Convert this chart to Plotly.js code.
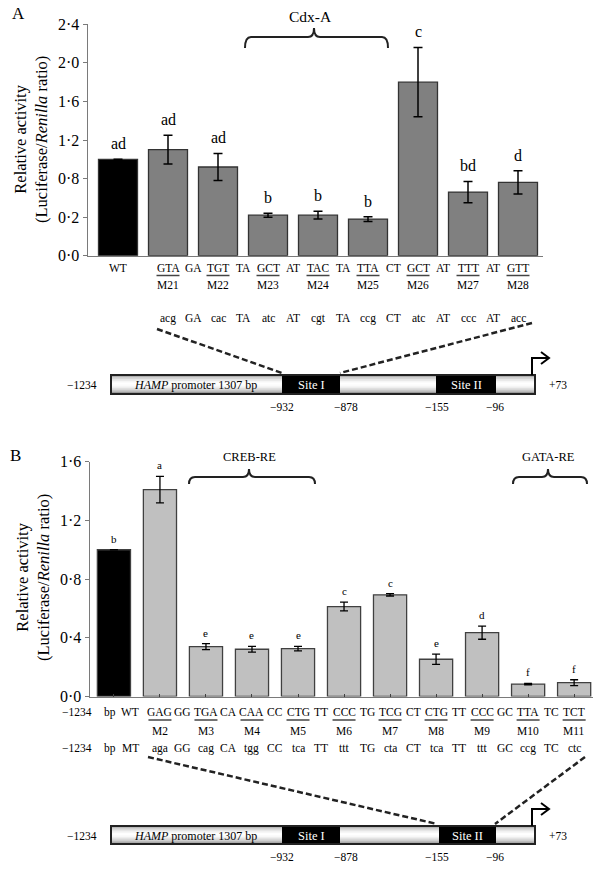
<!DOCTYPE html>
<html><head><meta charset="utf-8">
<script src="https://cdn.plot.ly/plotly-3.0.1.min.js"></script>
<style>body{margin:0;padding:0;background:#fff}#chart{width:603px;height:870px}</style>
</head><body><div id="chart"></div>
<script>
// ---------- Panel A data ----------
const catsA = ['WT','M21','M22','M23','M24','M25','M26','M27','M28'];
const valsA = [1.00, 1.10, 0.92, 0.42, 0.42, 0.38, 1.80, 0.66, 0.76];
const errA  = [0, 0.15, 0.14, 0.02, 0.04, 0.025, 0.36, 0.11, 0.12];
const lettersA = ['ad','ad','ad','b','b','b','c','bd','d'];
const ytickValsA = [0, 0.4, 0.8, 1.2, 1.6, 2.0, 2.4];
const ytickTextA = ['0·0','0·2','0·8','1·2','1·6','2·0','2·4'];
const seqWtA = ['GTA','GA','TGT','TA','GCT','AT','TAC','TA','TTA','CT','GCT','AT','TTT','AT','GTT'];
const seqMtA = ['acg','GA','cac','TA','atc','AT','cgt','TA','ccg','CT','atc','AT','ccc','AT','acc'];

// ---------- Panel B data ----------
const catsB = ['WT','M2','M3','M4','M5','M6','M7','M8','M9','M10','M11'];
const valsB = [1.00, 1.41, 0.34, 0.322, 0.326, 0.613, 0.693, 0.254, 0.435, 0.085, 0.094];
const errB  = [0, 0.09, 0.02, 0.02, 0.015, 0.03, 0.008, 0.035, 0.045, 0.005, 0.02];
const lettersB = ['b','a','e','e','e','c','c','e','d','f','f'];
const ytickValsB = [0, 0.4, 0.8, 1.2, 1.6];
const ytickTextB = ['0·0','0·4','0·8','1·2','1·6'];
const seqWtB = ['GAG','GG','TGA','CA','CAA','CC','CTG','TT','CCC','TG','TCG','CT','CTG','TT','CCC','GC','TTA','TC','TCT'];
const seqMtB = ['aga','GG','cag','CA','tgg','CC','tca','TT','ttt','TG','cta','CT','tca','TT','ttt','GC','ccg','TC','ctc'];

// promoter diagram labels
const promoterLabel = '<i>HAMP</i> promoter 1307 bp';
const siteLabels = ['Site I','Site II'];
const posLabels = ['−932','−878','−155','−96'];

// ---------- helpers ----------
const W = 603, H = 870;
const X = p => p / W;
const Y = p => 1 - p / H;
const P = (x, y) => X(x) + ',' + Y(y);
const FONT = 'Liberation Serif, Times New Roman, serif';

const annotations = [];
const shapes = [];
function txt(x, y, text, size, opts) {
  annotations.push(Object.assign({
    x: X(x), y: Y(y), xref: 'paper', yref: 'paper', text: text, showarrow: false,
    xanchor: 'center', yanchor: 'middle', font: {family: FONT, size: size, color: '#000'}
  }, opts || {}));
}
function txtX(xref, xv, y, text, size, opts) {
  annotations.push(Object.assign({
    x: xv, y: Y(y), xref: xref, yref: 'paper', text: text, showarrow: false,
    xanchor: 'center', yanchor: 'middle', font: {family: FONT, size: size, color: '#000'}
  }, opts || {}));
}
function underline(xref, xv, half, y) {
  shapes.push({type: 'line', xref: xref, yref: 'paper', x0: xv - half, x1: xv + half, y0: Y(y), y1: Y(y),
    line: {color: '#444', width: 1.5}});
}

// ---------- traces ----------
const traceA = {
  type: 'bar', x: catsA.map((c, i) => i), y: valsA, xaxis: 'x', yaxis: 'y', width: 0.78,
  marker: {color: catsA.map((c, i) => i === 0 ? '#000000' : '#808080'), line: {color: '#333333', width: 1.3}},
  error_y: {type: 'data', array: errA, visible: true, color: '#000', thickness: 1.5, width: 4.5},
  hoverinfo: 'none'
};
const traceB = {
  type: 'bar', x: catsB.map((c, i) => i), y: valsB, xaxis: 'x2', yaxis: 'y2', width: 0.72,
  marker: {color: catsB.map((c, i) => i === 0 ? '#000000' : '#c0c0c0'), line: {color: '#404040', width: 1.3}},
  error_y: {type: 'data', array: errB, visible: true, color: '#000', thickness: 1.3, width: 4},
  hoverinfo: 'none'
};

// significance letters
lettersA.forEach((l, i) => annotations.push({
  x: i, y: valsA[i] + errA[i], xref: 'x', yref: 'y', text: l, showarrow: false,
  yanchor: 'bottom', yshift: 5, font: {family: FONT, size: 16, color: '#000'}
}));
lettersB.forEach((l, i) => annotations.push({
  x: i, y: valsB[i] + errB[i], xref: 'x2', yref: 'y2', text: l, showarrow: false,
  yanchor: 'bottom', yshift: 3, font: {family: FONT, size: 11, color: '#000'}
}));

// panel labels
txt(18, 14, 'A', 17);
txt(15, 455, 'B', 17);

// y titles
txt(31, 140, 'Relative activity<br>(Luciferase/<i>Renilla</i> ratio)', 16.5, {textangle: -90});
txt(33, 578, 'Relative activity<br>(Luciferase/<i>Renilla</i> ratio)', 16.5, {textangle: -90});

// ---------- panel A under-axis rows ----------
const RS = 11.5;
txtX('x', 0, 268, 'WT', RS);
seqWtA.forEach((s, k) => {
  txtX('x', 1 + k * 0.5, 268, s, RS);
  if (k % 2 === 0) underline('x', 1 + k * 0.5, 0.23, 275.5);
});
catsA.slice(1).forEach((c, k) => txtX('x', 1 + k, 285, c, RS));
seqMtA.forEach((s, k) => txtX('x', 1 + k * 0.5, 318, s, RS));

// ---------- panel B under-axis rows ----------
txt(77, 712, '−1234', RS);
txt(110, 712, 'bp', RS);
txt(130, 712, 'WT', RS);
seqWtB.forEach((s, k) => {
  txtX('x2', 1 + k * 0.5, 712, s, RS);
  if (k % 2 === 0) underline('x2', 1 + k * 0.5, 0.25, 720);
});
catsB.slice(1).forEach((c, k) => txtX('x2', 1 + k, 731, c, RS));
txt(77, 748, '−1234', RS);
txt(110, 748, 'bp', RS);
txt(130, 748, 'MT', RS);
seqMtB.forEach((s, k) => txtX('x2', 1 + k * 0.5, 748, s, RS));

// ---------- braces ----------
function brace(x0, x1, xm, yTop, yEnd, yTip) {
  const r = 6;
  shapes.push({
    type: 'path', xref: 'paper', yref: 'paper', line: {color: '#222', width: 2},
    path: `M${P(x0, yEnd)} Q${P(x0, yTop)} ${P(x0 + r, yTop)} L${P(xm - r, yTop)} Q${P(xm, yTop)} ${P(xm, yTip)} Q${P(xm, yTop)} ${P(xm + r, yTop)} L${P(x1 - r, yTop)} Q${P(x1, yTop)} ${P(x1, yEnd)}`
  });
}
brace(245, 388, 314, 37, 48, 28);
txt(310, 16, 'Cdx-A', 15.5);
brace(189, 315, 249, 477, 484, 469);
txt(249, 457, 'CREB-RE', 12.5);
brace(513, 587, 548, 477, 484, 469);
txt(548, 457, 'GATA-RE', 12.5);

// ---------- promoter diagrams ----------
const grad = ['#b0b0b0','#cfcfcf','#e6e6e6','#f6f6f6','#ffffff','#fbfbfb','#eeeeee','#d8d8d8','#bcbcbc','#9a9a9a'];
function promoter(yTop, yBot, siteII0) {
  const segsLight = [[111, 282], [340, siteII0], [496, 535]];
  const n = grad.length, h = (yBot - yTop) / n;
  segsLight.forEach(([a, b]) => {
    grad.forEach((c, k) => shapes.push({
      type: 'rect', xref: 'paper', yref: 'paper', x0: X(a), x1: X(b),
      y0: Y(yTop + k * h), y1: Y(yTop + (k + 1) * h + 0.3), fillcolor: c, line: {width: 0}
    }));
  });
  [[282, 340], [siteII0, 496]].forEach(([a, b]) => shapes.push({
    type: 'rect', xref: 'paper', yref: 'paper', x0: X(a), x1: X(b), y0: Y(yTop), y1: Y(yBot),
    fillcolor: '#000', line: {width: 0}
  }));
  shapes.push({type: 'rect', xref: 'paper', yref: 'paper', x0: X(111), x1: X(535), y0: Y(yTop), y1: Y(yBot),
    fillcolor: 'rgba(0,0,0,0)', line: {color: '#222', width: 2}});
  // transcription start arrow
  const ya = yTop - 17;
  shapes.push({type: 'path', xref: 'paper', yref: 'paper', line: {color: '#000', width: 2},
    path: `M${P(532, yTop)} L${P(532, ya)} L${P(548, ya)}`});
  shapes.push({type: 'path', xref: 'paper', yref: 'paper', line: {color: '#000', width: 2},
    path: `M${P(541, ya - 6)} L${P(549, ya)} L${P(541, ya + 6)}`});
  const yc = (yTop + yBot) / 2;
  txt(82, yc + 1, '−1234', 11.5);
  txt(558, yc + 1, '+73', 11.5);
  txt(195, yc + 1, promoterLabel, 12);
  txt(311, yc + 1, siteLabels[0], 12.5, {font: {family: FONT, size: 12.5, color: '#fff'}});
  txt((siteII0 + 496) / 2, yc + 1, siteLabels[1], 12.5, {font: {family: FONT, size: 12.5, color: '#fff'}});
  const yl = yBot + 13;
  [282, 346, 437, 495].forEach((x, k) => txt(x, yl, posLabels[k], 11.5));
}
promoter(375, 394, 436);
promoter(826, 844, 439);

// dashed zoom lines
function dashed(x0, y0, x1, y1) {
  shapes.push({type: 'line', xref: 'paper', yref: 'paper', x0: X(x0), y0: Y(y0), x1: X(x1), y1: Y(y1),
    line: {color: '#222', width: 2.5, dash: '6px,3px'}});
}
dashed(157, 329, 282, 373);
dashed(532, 323, 340, 373);
dashed(148, 757, 437, 824);
dashed(585, 757, 495, 824);

// ---------- layout ----------
const axFont = {family: FONT, size: 16, color: '#000'};
const layout = {
  width: W, height: H, margin: {l: 0, r: 0, t: 0, b: 0, pad: 0},
  paper_bgcolor: '#fff', plot_bgcolor: 'rgba(0,0,0,0)', showlegend: false, bargap: 0,
  xaxis: {domain: [X(88), X(543)], range: [-0.6, 8.5], anchor: 'y', showline: true, linecolor: '#7a7a7a', linewidth: 1.5,
    ticks: '', showticklabels: false, showgrid: false, zeroline: false, automargin: false, fixedrange: true},
  yaxis: {domain: [Y(255.7), Y(24.3)], range: [0, 2.4], anchor: 'x', showline: true, linecolor: '#7a7a7a', linewidth: 1.5,
    tickmode: 'array', tickvals: ytickValsA, ticktext: ytickTextA, ticks: 'outside', ticklen: 4, tickcolor: '#7a7a7a',
    tickfont: axFont, showgrid: false, zeroline: false, automargin: false, fixedrange: true},
  xaxis2: {domain: [X(90), X(593)], range: [-0.52, 10.41], anchor: 'y2', showline: true, linecolor: '#7a7a7a', linewidth: 1.5,
    tickmode: 'array', tickvals: catsB.map((c, i) => i), ticks: 'inside', ticklen: 3, tickcolor: '#404040',
    showticklabels: false, showgrid: false, zeroline: false, automargin: false, fixedrange: true},
  yaxis2: {domain: [Y(696.5), Y(461.7)], range: [0, 1.6], anchor: 'x2', showline: true, linecolor: '#7a7a7a', linewidth: 1.5,
    tickmode: 'array', tickvals: ytickValsB, ticktext: ytickTextB, ticks: 'outside', ticklen: 4, tickcolor: '#7a7a7a',
    tickfont: axFont, showgrid: false, zeroline: false, automargin: false, fixedrange: true},
  annotations: annotations,
  shapes: shapes
};
Plotly.newPlot('chart', [traceA, traceB], layout, {staticPlot: true, displayModeBar: false});
</script></body></html>
